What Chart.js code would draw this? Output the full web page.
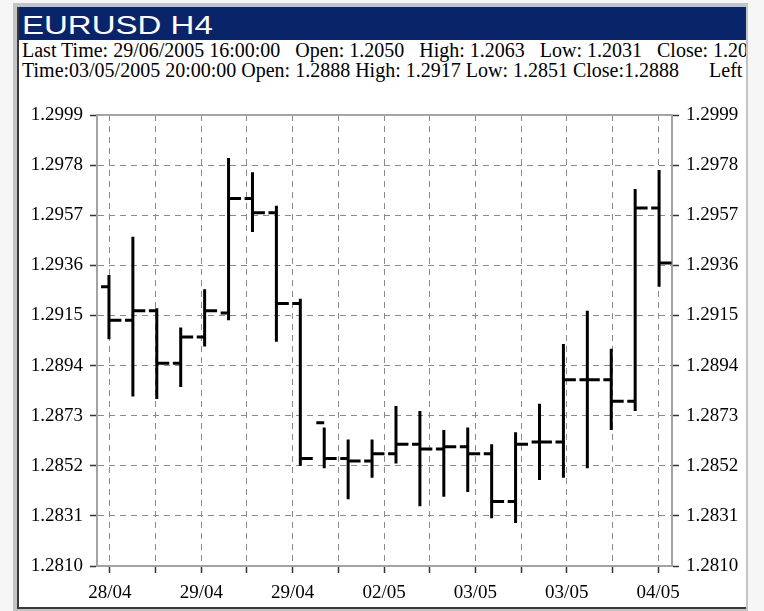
<!DOCTYPE html>
<html><head><meta charset="utf-8">
<script src="https://cdn.jsdelivr.net/npm/chart.js@4.4.1/dist/chart.umd.min.js"></script>
<style>
html,body{margin:0;padding:0;}
body{width:764px;height:611px;background:#f6f6f6;position:relative;overflow:hidden;}
#frame{position:absolute;left:13px;top:3px;width:735px;height:608px;background:#c4c4c4;}
#win{position:absolute;left:17px;top:7px;width:727px;height:600px;background:#fff;border-left:2px solid #3a3a3a;border-bottom:2px solid #3a3a3a;overflow:hidden;}
#titlebar{position:absolute;left:0;top:0;width:727px;height:33px;background:#0a246a;}
#title{position:absolute;left:3px;top:5px;font:26px/26px "Liberation Sans",Arial,sans-serif;color:#fff;white-space:pre;transform:scaleX(1.27);transform-origin:0 0;}
.info{position:absolute;left:3px;font:20px/20px "Liberation Serif","Times New Roman",serif;color:#000;white-space:pre;}
#chartwrap{position:absolute;left:19px;top:95px;width:727px;height:512px;}
</style></head>
<body>
<div id="frame"></div>
<div id="win">
  <div id="titlebar"><div id="title">EURUSD H4</div></div>
  <div class="info" id="info1" style="top:33px">Last Time: 29/06/2005 16:00:00   Open: 1.2050   High: 1.2063   Low: 1.2031   Close: 1.20</div>
  <div class="info" id="info2" style="top:53px">Time:03/05/2005 20:00:00 Open: 1.2888 High: 1.2917 Low: 1.2851 Close:1.2888      Left</div>
</div>
<div id="chartwrap"><canvas id="c" width="727" height="512"></canvas></div>
<script>
// ---- data ----
const barTimes = ['28/04 12:00','28/04 16:00','28/04 20:00','29/04 00:00','29/04 04:00','29/04 08:00',
  '29/04 12:00','29/04 16:00','29/04 20:00','02/05 00:00','02/05 04:00','02/05 08:00',
  '02/05 12:00','02/05 16:00','02/05 20:00','03/05 00:00','03/05 04:00','03/05 08:00',
  '03/05 12:00','03/05 16:00','03/05 20:00','04/05 00:00','04/05 04:00','04/05 08:00'];
const openPrices  = [1.2927,1.2913,1.2917,1.2895,1.2906,1.2916,1.2964,1.2958,1.2920,1.2870,1.2855,1.2854,
                     1.2857,1.2861,1.2859,1.2860,1.2857,1.2837,1.2862,1.2862,1.2888,1.2888,1.2879,1.2960];
const highPrices  = [1.2932,1.2948,1.2918,1.2910,1.2926,1.2981,1.2975,1.2961,1.2922,1.2868,1.2863,1.2863,
                     1.2877,1.2875,1.2867,1.2868,1.2861,1.2866,1.2878,1.2903,1.2917,1.2901,1.2968,1.2976];
const lowPrices   = [1.2905,1.2881,1.2880,1.2885,1.2902,1.2913,1.2950,1.2904,1.2852,1.2851,1.2838,1.2847,
                     1.2853,1.2835,1.2839,1.2841,1.2830,1.2828,1.2846,1.2847,1.2851,1.2867,1.2875,1.2927];
const closePrices = [1.2913,1.2917,1.2895,1.2906,1.2917,1.2964,1.2958,1.2920,1.2855,1.2855,1.2854,1.2857,
                     1.2861,1.2859,1.2860,1.2857,1.2837,1.2861,1.2862,1.2888,1.2888,1.2879,1.2960,1.2937];
const yTickValues = [1.2810,1.2831,1.2852,1.2873,1.2894,1.2915,1.2936,1.2957,1.2978,1.2999];
const xTickLabels = ['28/04','','29/04','','29/04','','02/05','','03/05','','03/05','','04/05'];

// ---- layout constants ----
const X_MIN = -0.5, X_MAX = 23.54;
const GRID_START = 0.04, GRID_STEP = 1.91;
const OPEN_TICK = 0.33, CLOSE_TICK = 0.52;
const xGrid = xTickLabels.map((_, k) => GRID_START + k * GRID_STEP);

const vLines = [], oTicks = [], cTicks = [];
barTimes.forEach((t, i) => {
  vLines.push({x: i, y: lowPrices[i]}, {x: i, y: highPrices[i]}, {x: i, y: null});
  oTicks.push({x: i - OPEN_TICK, y: openPrices[i]}, {x: i, y: openPrices[i]}, {x: i, y: null});
  cTicks.push({x: i, y: closePrices[i]}, {x: i + CLOSE_TICK, y: closePrices[i]}, {x: i, y: null});
});

const lineDs = (data) => ({data, showLine: true, borderColor: '#000', borderWidth: 3,
  pointRadius: 0, borderCapStyle: 'butt', spanGaps: false, tension: 0});

const tickFont = {family: '"Liberation Serif","Times New Roman",serif', size: 19};
const gridCfg = {color: '#8a8a8a', lineWidth: 1, tickLength: 7, tickColor: '#333', tickWidth: 1.5};
const borderCfg = {color: '#a3a3a3', width: 2, dash: [6, 5]};
const yTicksSet = s => { s.ticks = yTickValues.map(v => ({value: v})); };

new Chart(document.getElementById('c'), {
  type: 'scatter',
  data: {datasets: [lineDs(vLines), lineDs(oTicks), lineDs(cTicks)]},
  options: {
    responsive: false, animation: false, events: [],
    layout: {padding: 0},
    plugins: {legend: {display: false}, tooltip: {enabled: false}},
    scales: {
      x: {
        type: 'linear', position: 'bottom', min: X_MIN, max: X_MAX,
        afterBuildTicks: s => { s.ticks = xGrid.map(v => ({value: v})); },
        afterFit: s => { s.height = 41; },
        ticks: {autoSkip: false, maxRotation: 0, minRotation: 0, color: '#000', font: tickFont, padding: 9,
          callback: (v, i) => xTickLabels[i]},
        grid: gridCfg, border: borderCfg
      },
      x2: {
        type: 'linear', position: 'top', min: X_MIN, max: X_MAX,
        afterFit: s => { s.height = 20; },
        ticks: {display: false},
        grid: {drawOnChartArea: false, drawTicks: false},
        border: {color: '#a3a3a3', width: 2}
      },
      y: {
        type: 'linear', position: 'left', min: 1.2810, max: 1.2999,
        afterBuildTicks: yTicksSet,
        afterFit: s => { s.width = 78; },
        ticks: {color: '#000', font: tickFont, padding: 7, callback: v => v.toFixed(4)},
        grid: gridCfg, border: borderCfg
      },
      y2: {
        type: 'linear', position: 'right', min: 1.2810, max: 1.2999,
        afterBuildTicks: yTicksSet,
        afterFit: s => { s.width = 74; },
        ticks: {color: '#000', font: tickFont, padding: 7, callback: v => v.toFixed(4)},
        grid: Object.assign({}, gridCfg, {drawOnChartArea: false}), border: borderCfg
      }
    }
  }
});
</script>
</body></html>
